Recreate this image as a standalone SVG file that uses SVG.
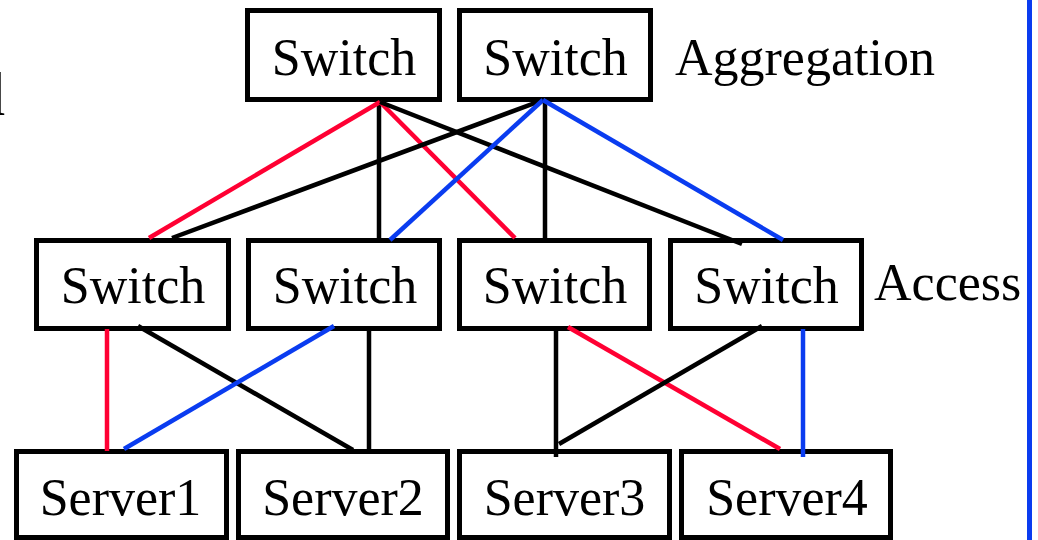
<svg xmlns="http://www.w3.org/2000/svg" width="1038" height="540" viewBox="0 0 1038 540">
<style>
.box{fill:#ffffff;stroke:#000000;stroke-width:5}
.lbl{font-family:"Liberation Serif","Times New Roman",serif;font-size:52px;fill:#000000}
.mid{text-anchor:middle}
.c{fill:none;stroke-width:4.5;stroke-linecap:butt}
.k{stroke:#000000}
.r{stroke:#ff0033}
.b{stroke:#0a3cf0}
</style>
<rect width="1038" height="540" fill="#ffffff"/>
<text class="lbl" x="-26" y="115" font-size="62" style="font-size:62px">d</text>
<g id="agg-switch-1"><rect class="box" x="247.5" y="10.5" width="192" height="89"/><text class="lbl mid" x="344" y="75">Switch</text></g>
<g id="agg-switch-2"><rect class="box" x="459.5" y="10.5" width="191" height="89"/><text class="lbl mid" x="555.5" y="75">Switch</text></g>
<text id="label-aggregation" class="lbl" x="675" y="75">Aggregation</text>
<g id="acc-switch-1"><rect class="box" x="36.5" y="240.5" width="192" height="88"/><text class="lbl mid" x="133" y="303">Switch</text></g>
<g id="acc-switch-2"><rect class="box" x="248.5" y="240.5" width="191" height="88"/><text class="lbl mid" x="345" y="303">Switch</text></g>
<g id="acc-switch-3"><rect class="box" x="459.5" y="240.5" width="190" height="88"/><text class="lbl mid" x="555" y="303">Switch</text></g>
<g id="acc-switch-4"><rect class="box" x="670.5" y="240.5" width="191" height="88"/><text class="lbl mid" x="766.5" y="303">Switch</text></g>
<text id="label-access" class="lbl" x="874" y="300">Access</text>
<g id="server-1"><rect class="box" x="16.5" y="451.5" width="210" height="86"/><text class="lbl mid" x="120.5" y="515">Server1</text></g>
<g id="server-2"><rect class="box" x="238.5" y="451.5" width="209" height="86"/><text class="lbl mid" x="343" y="515">Server2</text></g>
<g id="server-3"><rect class="box" x="459.5" y="451.5" width="210" height="86"/><text class="lbl mid" x="564.5" y="515">Server3</text></g>
<g id="server-4"><rect class="box" x="681.5" y="451.5" width="209" height="86"/><text class="lbl mid" x="787" y="515">Server4</text></g>
<g id="connectors">
<path class="c k" d="M379,100 V240"/>
<path class="c r" d="M380,102 L149,238"/>
<path class="c r" d="M380,102 L515,238"/>
<path class="c k" d="M380,102 L742,244"/>
<path class="c k" d="M543,100 L172,238"/>
<path class="c b" d="M543,100 L390,240"/>
<path class="c k" d="M545,100 V240"/>
<path class="c b" d="M543,100 L783,240"/>
<path class="c r" d="M107,329 V451"/>
<path class="c k" d="M138,326 L353,450"/>
<path class="c b" d="M334,326 L124,449"/>
<path class="c k" d="M369,329 V451"/>
<path class="c k" d="M556,329 V457"/>
<path class="c r" d="M568,327 L780,449"/>
<path class="c k" d="M762,326 L559,444"/>
<path class="c b" d="M803,329 V457"/>
</g>
<path id="divider" class="c b" d="M1029.5,0 V540" style="stroke-width:5"/>
</svg>
